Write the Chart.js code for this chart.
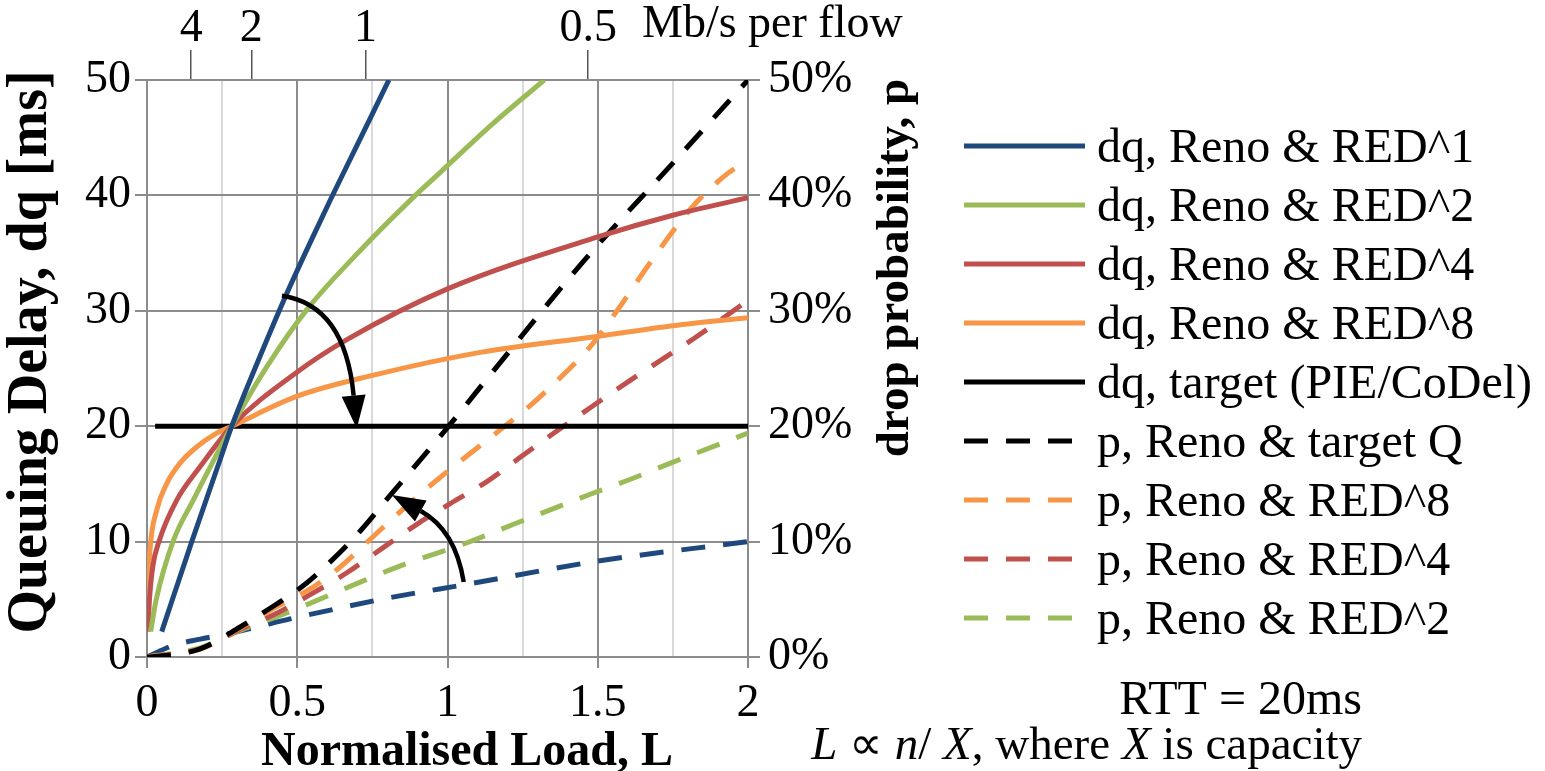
<!DOCTYPE html>
<html>
<head>
<meta charset="utf-8">
<script src="https://cdn.jsdelivr.net/npm/chart.js@4.4.1/dist/chart.umd.min.js"></script>
<style>
  html, body { margin: 0; padding: 0; background: #fff; }
  #wrap { width: 1545px; height: 771px; position: relative; }
</style>
</head>
<body>
<div id="wrap"><canvas id="chart" width="1545" height="771"></canvas></div>
<script>
// queuing delay curves [L, dq ms]
const dqRed1 = [[0.049,2.2],[0.149,10.0],[0.238,16.7],[0.282,20],[0.38,26.3],[0.46,31.2],[0.55,36.3],[0.61,39.6],[0.7,44.4],[0.805,50]];
const dqRed2 = [[0.012,2.2],[0.03,4.9],[0.088,10.1],[0.154,13.6],[0.215,16.7],[0.282,20],[0.4,25.2],[0.532,30.1],[0.72,35.5],[0.893,40],[0.976,42],[1.15,46.2],[1.322,50]];
const dqRed4 = [[0.003,2.2],[0.008,4.9],[0.019,7.8],[0.041,10.1],[0.099,13.6],[0.177,16.5],[0.282,20],[0.5,24.7],[0.665,27.5],[1,31.9],[1.5,36.4],[1.753,38.3],[2,39.8]];
const dqRed8 = [[0,2.2],[0.002,5.0],[0.01,9.3],[0.032,12.7],[0.066,15.05],[0.11,16.8],[0.165,18.2],[0.232,19.4],[0.282,20],[0.5,22.6],[0.75,24.4],[1.109,26.4],[1.503,27.8],[1.75,28.7],[2,29.4]];
const dqTarget = [[0.027,20],[2,20]];

// drop probability curves [L, p %]
const pTargetQ = [[0,0],[0.05,0.1],[0.177,0.7],[0.31,2.6],[0.42,4.4],[0.526,6.3],[0.62,8.5],[0.709,10.9],[0.809,14.0],[1.004,20],[1.153,24.8],[1.453,34.3],[1.75,42.8],[2,50]];
const pRed8 = [[0,0],[0.177,0.7],[0.31,2.5],[0.42,4.2],[0.543,5.9],[0.643,7.8],[0.743,10.2],[0.843,12.6],[0.954,15.1],[1.176,19.7],[1.276,21.8],[1.375,24.2],[1.475,26.9],[1.553,29.6],[1.686,34.6],[1.808,38.8],[1.918,41.6],[2,43.1]];
const pRed4 = [[0,0],[0.177,0.7],[0.31,2.4],[0.432,3.8],[0.543,5.4],[0.665,7.3],[0.787,9.5],[0.898,11.5],[1.009,13.3],[1.131,15.2],[1.242,17.3],[1.365,19.6],[1.475,21.6],[1.598,23.8],[1.709,25.7],[1.82,27.6],[2,30.9]];
const pRed2 = [[0,0],[0.177,0.8],[0.31,2.3],[0.432,3.5],[0.51,4.3],[0.665,6.0],[0.843,7.9],[1.065,9.9],[1.22,11.5],[1.475,14.1],[1.609,15.4],[1.742,16.8],[2,19.4]];
const pRed1 = [[0,0],[0.087,1.0],[0.177,1.55],[0.276,2.05],[0.365,2.6],[0.476,3.3],[0.598,4.0],[0.8,5.1],[1.065,6.3],[1.498,8.3],[2,10]];

// top axis: Mb/s per flow at these loads
const topTickLoads  = [0.147, 0.347, 0.727, 1.468];
const topTickLabels = ['4', '2', '1', '0.5'];

// annotation arrows, in data units
const arrowDown = { from: [0.449,31.3], ctrl: [0.659,30.5], tip: [0.698,19.8] };
const arrowUp   = { from: [1.054,6.5],  ctrl: [1.026,11.0], tip: [0.815,14.04] };

const SERIF = "'Liberation Serif', 'Times New Roman', serif";
const BLUE = '#1F497D', GREEN = '#9BBB59', RED = '#C0504D', ORANGE = '#F79646';
const GRID = '#8c8c8c', MINOR = '#d9d9d9';
const DASH = [24, 18];

const pts = arr => arr.map(p => ({ x: p[0], y: p[1] }));

function series(label, arr, color, dashed, axis, legend) {
    return {
        label, data: pts(arr), borderColor: color, backgroundColor: color,
        borderWidth: 5, borderDash: dashed ? DASH : [], borderCapStyle: 'butt',
        pointRadius: 0, cubicInterpolationMode: 'monotone', fill: false,
        yAxisID: axis, inLegend: legend
    };
}

const datasets = [
    series('dq, Reno & RED^1', dqRed1, BLUE, false, 'y', true),
    series('dq, Reno & RED^2', dqRed2, GREEN, false, 'y', true),
    series('dq, Reno & RED^4', dqRed4, RED, false, 'y', true),
    series('dq, Reno & RED^8', dqRed8, ORANGE, false, 'y', true),
    series('dq, target (PIE/CoDel)', dqTarget, '#000', false, 'y', true),
    series('p, Reno & target Q', pTargetQ, '#000', true, 'y2', true),
    series('p, Reno & RED^8', pRed8, ORANGE, true, 'y2', true),
    series('p, Reno & RED^4', pRed4, RED, true, 'y2', true),
    series('p, Reno & RED^2', pRed2, GREEN, true, 'y2', true),
    series('p, Reno & RED^1', pRed1, BLUE, true, 'y2', false)
];

const isMajor = v => Math.abs(v * 2 - Math.round(v * 2)) < 1e-6;

function drawArrow(ctx, xs, ys, a) {
    const p0 = [xs.getPixelForValue(a.from[0]), ys.getPixelForValue(a.from[1])];
    const c  = [xs.getPixelForValue(a.ctrl[0]), ys.getPixelForValue(a.ctrl[1])];
    const t  = [xs.getPixelForValue(a.tip[0]),  ys.getPixelForValue(a.tip[1])];
    const ang = Math.atan2(t[1] - c[1], t[0] - c[0]);
    const headLen = 33, headW = 12;
    const base = [t[0] - Math.cos(ang) * headLen, t[1] - Math.sin(ang) * headLen];
    ctx.save();
    ctx.strokeStyle = '#000';
    ctx.fillStyle = '#000';
    ctx.lineWidth = 4.5;
    ctx.setLineDash([]);
    ctx.beginPath();
    ctx.moveTo(p0[0], p0[1]);
    ctx.quadraticCurveTo(c[0], c[1], base[0], base[1]);
    ctx.stroke();
    ctx.beginPath();
    ctx.moveTo(t[0], t[1]);
    ctx.lineTo(base[0] + Math.sin(ang) * headW, base[1] - Math.cos(ang) * headW);
    ctx.lineTo(base[0] - Math.sin(ang) * headW, base[1] + Math.cos(ang) * headW);
    ctx.closePath();
    ctx.fill();
    ctx.restore();
}

function rotatedText(ctx, text, x, y, font) {
    ctx.save();
    ctx.translate(x, y);
    ctx.rotate(-Math.PI / 2);
    ctx.font = font;
    ctx.textAlign = 'center';
    ctx.textBaseline = 'middle';
    ctx.fillText(text, 0, 0);
    ctx.restore();
}

const extras = {
    id: 'extras',
    afterDatasetsDraw(chart) {
        const ctx = chart.ctx;
        drawArrow(ctx, chart.scales.x, chart.scales.y, arrowDown);
        drawArrow(ctx, chart.scales.x, chart.scales.y, arrowUp);
    },
    afterDraw(chart) {
        const ctx = chart.ctx;
        ctx.save();
        ctx.fillStyle = '#000';

        // axis titles
        rotatedText(ctx, 'Queuing Delay, dq [ms]', 32, 352, 'bold 56px ' + SERIF);
        rotatedText(ctx, 'drop probability, p', 896, 268, 'bold 47px ' + SERIF);
        ctx.font = 'bold 48px ' + SERIF;
        ctx.textAlign = 'center';
        ctx.textBaseline = 'alphabetic';
        ctx.fillText('Normalised Load, L', 467, 765);

        // top axis unit
        ctx.font = '46px ' + SERIF;
        ctx.textAlign = 'left';
        ctx.fillText('Mb/s per flow', 642, 37);

        // legend
        const rowY0 = 146, rowStep = 59;
        let row = 0;
        chart.data.datasets.forEach(ds => {
            if (!ds.inLegend) return;
            const y = rowY0 + row * rowStep;
            ctx.save();
            ctx.strokeStyle = ds.borderColor;
            ctx.lineWidth = 5;
            ctx.lineCap = 'butt';
            ctx.setLineDash(ds.borderDash);
            ctx.beginPath();
            ctx.moveTo(964, y);
            ctx.lineTo(1085, y);
            ctx.stroke();
            ctx.restore();
            ctx.font = '48px ' + SERIF;
            ctx.fillText(ds.label, 1097, y + 16);
            row++;
        });

        // notes
        ctx.textAlign = 'right';
        ctx.font = '48px ' + SERIF;
        ctx.fillText('RTT = 20ms', 1362, 714);
        const runs = [['L', true], [' \u221D ', false], ['n', true], ['/ ', false], ['X', true],
                      [', where ', false], ['X', true], [' is capacity', false]];
        ctx.textAlign = 'left';
        let w = 0;
        runs.forEach(r => { ctx.font = (r[1] ? 'italic ' : '') + '47px ' + SERIF; w += ctx.measureText(r[0]).width; });
        let x = 1362 - w;
        runs.forEach(r => {
            ctx.font = (r[1] ? 'italic ' : '') + '47px ' + SERIF;
            ctx.fillText(r[0], x, 759);
            x += ctx.measureText(r[0]).width;
        });
        ctx.restore();
    }
};

new Chart(document.getElementById('chart'), {
    type: 'line',
    data: { datasets },
    plugins: [extras],
    options: {
        responsive: false,
        animation: false,
        layout: { padding: { left: 0, top: 0, bottom: 0, right: 615 } },
        plugins: { legend: { display: false }, tooltip: { enabled: false } },
        scales: {
            x: {
                type: 'linear', position: 'bottom', min: 0, max: 2,
                ticks: {
                    stepSize: 0.25, autoSkip: false, maxRotation: 0, color: '#000', padding: 8,
                    font: { family: SERIF, size: 46 },
                    callback: v => isMajor(v) ? String(v) : ''
                },
                grid: {
                    lineWidth: 2, tickLength: 11,
                    color: c => isMajor(c.tick.value) ? GRID : MINOR,
                    tickColor: c => isMajor(c.tick.value) ? GRID : 'rgba(0,0,0,0)'
                },
                border: { color: GRID, width: 2 },
                afterFit: s => { s.height = 114; }
            },
            x2: {
                type: 'linear', position: 'top', min: 0, max: 2,
                afterBuildTicks: a => { a.ticks = topTickLoads.map(v => ({ value: v })); },
                ticks: {
                    autoSkip: false, maxRotation: 0, color: '#000', padding: -7,
                    font: { family: SERIF, size: 46 },
                    callback: (v, i) => topTickLabels[i]
                },
                grid: { drawOnChartArea: false, tickLength: 30, color: '#555', lineWidth: 1.5 },
                border: { color: GRID, width: 2 },
                afterFit: s => { s.height = 80; }
            },
            y: {
                position: 'left', min: 0, max: 50,
                ticks: { stepSize: 10, color: '#000', padding: 4, font: { family: SERIF, size: 46 } },
                grid: { color: GRID, lineWidth: 2, tickLength: 12 },
                border: { color: GRID, width: 2 },
                afterFit: s => { s.width = 147; }
            },
            y2: {
                position: 'right', min: 0, max: 50,
                ticks: {
                    stepSize: 10, color: '#000', padding: 8, font: { family: SERIF, size: 46 },
                    callback: v => v + '%'
                },
                grid: { drawOnChartArea: false, color: GRID, lineWidth: 2, tickLength: 12 },
                border: { color: GRID, width: 2 },
                afterFit: s => { s.width = 182; }
            }
        }
    }
});
</script>
</body>
</html>
